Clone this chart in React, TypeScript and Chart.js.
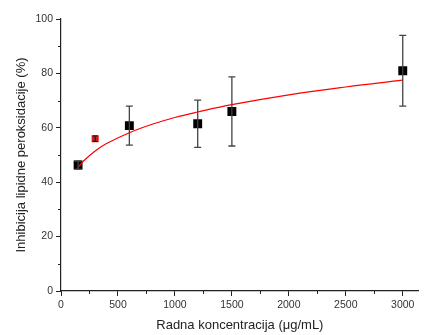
import React, { useEffect, useRef } from "react";
import { Chart, registerables } from "chart.js";
Chart.register(...registerables);

const concentrations = [150, 600, 1200, 1500, 3000];
const inhibition = [46.3, 60.8, 61.5, 66.0, 81.0];
const errors = [1.5, 7.2, 8.7, 12.7, 13.0];

const outlierX = [300];
const outlierY = [56.0];
const outlierErr = [1.0];

const fitX = [150, 200, 300, 400, 600, 800, 1000, 1200, 1500, 2000, 2500, 3000];
const fitY = [45.5, 47.9, 51.5, 54.2, 58.2, 61.3, 63.8, 65.8, 68.5, 72.1, 75.0, 77.5];

const xMajorTicks = [0, 500, 1000, 1500, 2000, 2500, 3000];
const xMinorTicks = [250, 750, 1250, 1750, 2250, 2750];
const yMajorTicks = [0, 20, 40, 60, 80, 100];
const yMinorTicks = [10, 30, 50, 70, 90];

const FONT = "'Liberation Sans', Arial, sans-serif";

export default function App() {
  const ref = useRef<HTMLCanvasElement | null>(null);
  useEffect(() => {
    if (!ref.current) return;
    const errorPlugin = {
      id: "errs",
      afterDatasetsDraw(chart: any) {
        const { ctx, scales } = chart;
        const xs = scales.x, ys = scales.y;
        const drawBar = (x: number, y: number, e: number, color: string, cap: number) => {
          const px = xs.getPixelForValue(x);
          const top = ys.getPixelForValue(y + e);
          const bot = ys.getPixelForValue(y - e);
          ctx.save();
          ctx.strokeStyle = color;
          ctx.lineWidth = 1.3;
          ctx.beginPath();
          ctx.moveTo(px, top); ctx.lineTo(px, bot);
          ctx.moveTo(px - cap, top); ctx.lineTo(px + cap, top);
          ctx.moveTo(px - cap, bot); ctx.lineTo(px + cap, bot);
          ctx.stroke();
          ctx.restore();
        };
        concentrations.forEach((c, i) => drawBar(c, inhibition[i], errors[i], "#444", 3.5));
        outlierX.forEach((c, i) => drawBar(c, outlierY[i], outlierErr[i], "#222", 2.5));
        ctx.save();
        ctx.strokeStyle = "#222";
        ctx.lineWidth = 1;
        ctx.beginPath();
        const b = chart.chartArea.bottom;
        xMinorTicks.forEach((v) => {
          const p = Math.round(xs.getPixelForValue(v)) + 0.5;
          ctx.moveTo(p, b); ctx.lineTo(p, b + 3);
        });
        const l = chart.chartArea.left;
        yMinorTicks.forEach((v) => {
          const p = Math.round(ys.getPixelForValue(v)) + 0.5;
          ctx.moveTo(l, p); ctx.lineTo(l - 3, p);
        });
        ctx.stroke();
        ctx.restore();
      },
    };
    const chart = new Chart(ref.current, {
      type: "scatter",
      data: {
        datasets: [
          {
            type: "line",
            data: fitX.map((x, i) => ({ x, y: fitY[i] })),
            borderColor: "#ff0000",
            borderWidth: 1.2,
            pointRadius: 0,
            tension: 0.4,
            fill: false,
          } as any,
          {
            data: concentrations.map((x, i) => ({ x, y: inhibition[i] })),
            pointStyle: "rect",
            pointRadius: 6.3,
            backgroundColor: "#000",
            borderColor: "#000",
            borderWidth: 0,
          },
          {
            data: outlierX.map((x, i) => ({ x, y: outlierY[i] })),
            pointStyle: "rect",
            pointRadius: 5,
            backgroundColor: "#e01818",
            borderColor: "#e01818",
            borderWidth: 0,
          },
        ],
      },
      options: {
        animation: false,
        responsive: false,
        layout: { padding: { top: 19, right: 0, left: 0, bottom: 0 } },
        plugins: { legend: { display: false }, tooltip: { enabled: false } },
        scales: {
          x: {
            type: "linear",
            min: 0,
            max: 3140,
            afterBuildTicks: (s: any) => { s.ticks = xMajorTicks.map((v) => ({ value: v })); },
            afterFit: (s: any) => { s.height = 44; },
            grid: { display: true, drawOnChartArea: false, drawTicks: true, tickLength: 5, color: "#222", lineWidth: 1 },
            border: { display: true, color: "#222", width: 1.2 },
            ticks: { color: "#333", font: { family: FONT, size: 10.5 }, padding: 3, maxRotation: 0, callback: (v: any) => String(v) },
            title: { display: true, text: "Radna koncentracija (μg/mL)", color: "#222", font: { family: FONT, size: 13 }, padding: { top: 0, bottom: 2 } },
          },
          y: {
            type: "linear",
            min: 0,
            max: 100,
            afterBuildTicks: (s: any) => { s.ticks = yMajorTicks.map((v) => ({ value: v })); },
            afterFit: (s: any) => { s.width = 61; },
            grid: { display: true, drawOnChartArea: false, drawTicks: true, tickLength: 5, color: "#222", lineWidth: 1 },
            border: { display: true, color: "#222", width: 1.2 },
            ticks: { color: "#333", font: { family: FONT, size: 10.5 }, padding: 3, callback: (v: any) => String(v) },
            title: { display: true, text: "Inhibicija lipidne peroksidacije (%)", color: "#222", font: { family: FONT, size: 13 }, padding: { top: 14, bottom: 0 } },
          },
        },
      },
      plugins: [errorPlugin],
    } as any);
    return () => chart.destroy();
  }, []);
  return (
    <div style={{ position: "fixed", left: 0, top: 0, width: 425, height: 335, background: "#fff" }}>
      <canvas ref={ref} width={425} height={335} style={{ width: 425, height: 335 }} />
    </div>
  );
}
